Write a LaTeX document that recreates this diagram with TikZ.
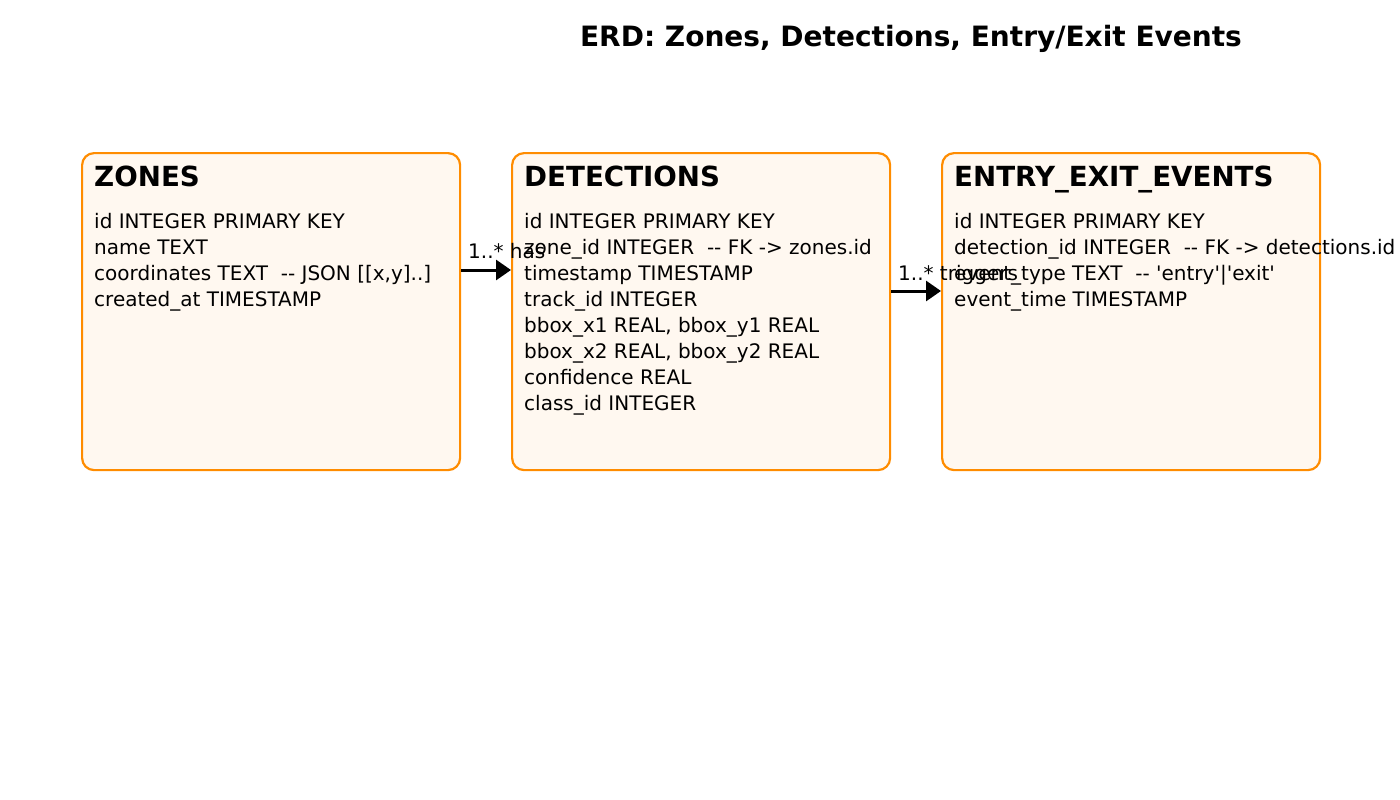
\documentclass[tikz,border=0pt]{standalone}
\usepackage{fontspec}
\setmainfont{DejaVu Sans}
\usepackage{tikz}
\usetikzlibrary{arrows.meta}
\definecolor{erdorange}{HTML}{FF8C00}
\definecolor{erdfill}{HTML}{FFF8F0}
\newcommand{\titlefont}{\fontsize{28}{32}\selectfont\bfseries}
\newcommand{\headfont}{\fontsize{27.7}{32}\selectfont\bfseries}
\newcommand{\bodyfont}{\fontsize{20}{26}\selectfont}
\newcommand{\sq}{\textquotesingle}

\begin{document}
\begin{tikzpicture}[x=1pt, y=-1pt]
	\tikzstyle{tablebox}=[
	draw=erdorange,
	fill=erdfill,
	line width=2.2pt,
	rounded corners=12pt,
	minimum width=378pt,
	minimum height=317pt,
	inner sep=0pt,
	anchor=north west
	]
	\tikzstyle{tablehead}=[anchor=base west, inner sep=0pt, font=\headfont]
	\tikzstyle{fieldtext}=[anchor=base west, inner sep=0pt, font=\bodyfont]
	\tikzstyle{relation}=[line width=3pt, -{Triangle[length=15pt, width=20pt]}]
	\useasboundingbox (0,0) rectangle (1400,800);
	% title
	\node[anchor=base, inner sep=0pt, font=\titlefont] (title) at (911,47) {ERD: Zones, Detections, Entry/Exit Events};
	% tables
	\node[tablebox] (Z) at (81,152) {};
	\node[tablebox] (D) at (511,152) {};
	\node[tablebox] (E) at (941,152) {};
	\node[tablehead] (Zhead) at (94,186) {ZONES};
	\node[tablehead] (Dhead) at (524,186) {DETECTIONS};
	\node[tablehead] (Ehead) at (954,186) {ENTRY\_EXIT\_EVENTS};
	\foreach \txt [count=\i] in {id INTEGER PRIMARY KEY, name TEXT,
		{coordinates TEXT~ -{}- JSON [[x,y]..]}, created\_at TIMESTAMP}
	\node[fieldtext] (Zf\i) at (94,202+26*\i) {\txt};
	\foreach \txt [count=\i] in {id INTEGER PRIMARY KEY,
		{zone\_id INTEGER~ -{}- FK -> zones.id}, timestamp TIMESTAMP,
		track\_id INTEGER, {bbox\_x1 REAL, bbox\_y1 REAL},
		{bbox\_x2 REAL, bbox\_y2 REAL}, confidence REAL, class\_id INTEGER}
	\node[fieldtext] (Df\i) at (524,202+26*\i) {\txt};
	\foreach \txt [count=\i] in {id INTEGER PRIMARY KEY,
		{detection\_id INTEGER~ -{}- FK -> detections.id},
		{event\_type TEXT~ -{}- \sq entry\sq|\sq exit\sq}, event\_time TIMESTAMP}
	\node[fieldtext] (Ef\i) at (954,202+26*\i) {\txt};
	% relations
	\coordinate (has) at (0,270);
	\coordinate (trig) at (0,291);
	\draw[relation] (Z.east |- has) -- (D.west |- has);
	\draw[relation] (D.east |- trig) -- (E.west |- trig);
	\node[fieldtext] (haslabel) at (468,258) {1..* has};
	\node[fieldtext] (triglabel) at (898,280) {1..* triggers};
\end{tikzpicture}
\end{document}
